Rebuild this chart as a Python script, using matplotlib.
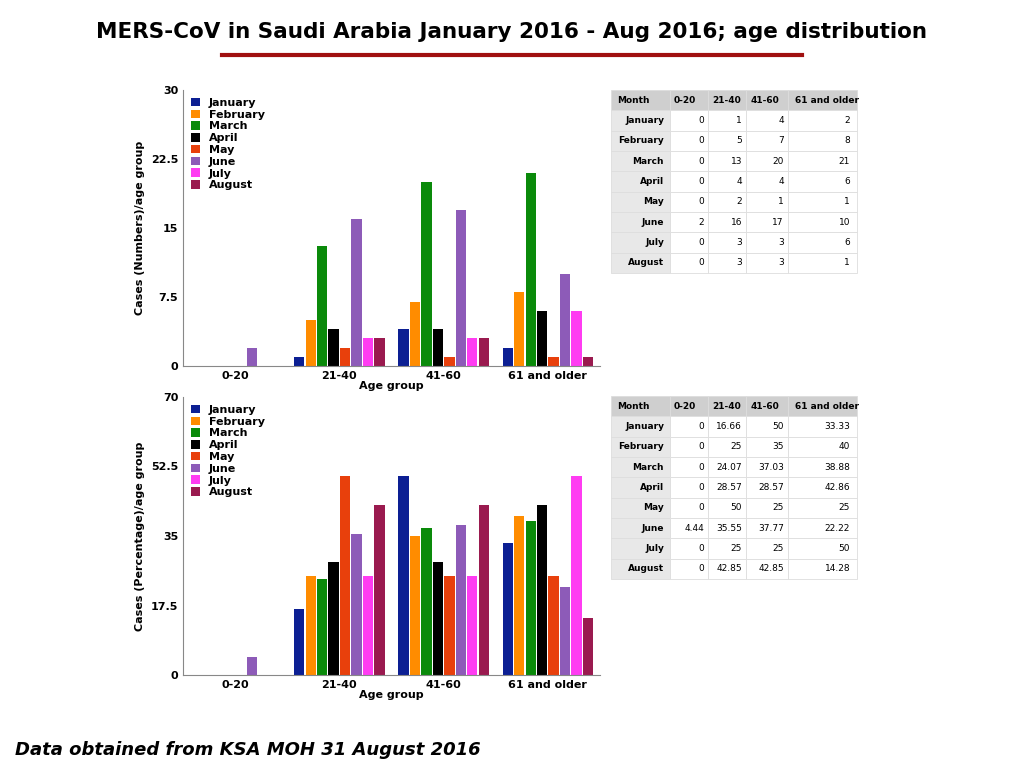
import numpy as np
import matplotlib.pyplot as plt
from matplotlib.lines import Line2D

months = ['January', 'February', 'March', 'April', 'May', 'June', 'July', 'August']
age_groups = ['0-20', '21-40', '41-60', '61 and older']
colors = ['#0c1f93', '#ff8c00', '#0a8a0a', '#000000', '#e8400c', '#8d5bb8', '#ff3cf2', '#9a1a4f']

counts = [
    [0, 1, 4, 2],
    [0, 5, 7, 8],
    [0, 13, 20, 21],
    [0, 4, 4, 6],
    [0, 2, 1, 1],
    [2, 16, 17, 10],
    [0, 3, 3, 6],
    [0, 3, 3, 1],
]
percents = [
    [0, 16.66, 50, 33.33],
    [0, 25, 35, 40],
    [0, 24.07, 37.03, 38.88],
    [0, 28.57, 28.57, 42.86],
    [0, 50, 25, 25],
    [4.44, 35.55, 37.77, 22.22],
    [0, 25, 25, 50],
    [0, 42.85, 42.85, 14.28],
]

W, H = 1024, 768
fig = plt.figure(figsize=(W / 100, H / 100), dpi=100)
fig.patch.set_facecolor('white')


def fbox(x0, y0, x1, y1):
    return [x0 / W, 1 - y1 / H, (x1 - x0) / W, (y1 - y0) / H]


fig.text(0.5, 1 - 32 / H, 'MERS-CoV in Saudi Arabia January 2016 - Aug 2016; age distribution',
         ha='center', va='center', fontsize=15.5, fontweight='bold')
fig.add_artist(Line2D([222 / W, 802 / W], [1 - 55 / H] * 2, color='#a01010', lw=3))
fig.text(15 / W, 1 - 750 / H, 'Data obtained from KSA MOH 31 August 2016',
         ha='left', va='center', fontsize=13, fontweight='bold', style='italic')


def bar_panel(rect, data, ymax, ticks, ylabel):
    ax = fig.add_axes(rect)
    x = np.arange(len(age_groups))
    bw = 0.88 / len(months) * 1.0
    for i, (m, c) in enumerate(zip(months, colors)):
        ax.bar(x - 0.44 + bw * (i + 0.5), data[i], width=bw * 0.9, color=c, label=m)
    ax.set_xlim(-0.5, 3.5)
    ax.set_ylim(0, ymax)
    ax.set_yticks(ticks)
    ax.set_yticklabels([('%g' % t) for t in ticks], fontsize=8, fontweight='bold')
    ax.set_xticks(x)
    ax.set_xticklabels(age_groups, fontsize=8, fontweight='bold')
    ax.tick_params(length=0)
    ax.set_xlabel('Age group', fontsize=8, fontweight='bold', labelpad=0)
    ax.set_ylabel(ylabel, fontsize=8, fontweight='bold')
    for s in ['top', 'right']:
        ax.spines[s].set_visible(False)
    ax.spines['left'].set_color('#888888')
    ax.spines['bottom'].set_color('#888888')
    leg = ax.legend(loc='upper left', frameon=False, fontsize=8, handlelength=0.8,
                    handleheight=0.8, labelspacing=0.15, borderaxespad=0.3)
    for t in leg.get_texts():
        t.set_fontweight('bold')
    return ax


bar_panel(fbox(183, 90, 600, 366), counts, 30, [0, 7.5, 15, 22.5, 30], 'Cases (Numbers)/age group')
bar_panel(fbox(183, 397, 600, 675), percents, 70, [0, 17.5, 35, 52.5, 70], 'Cases (Percentage)/age group')


def table_panel(rect, data):
    ax = fig.add_axes(rect)
    ax.axis('off')
    cells = [[('%g' % v) for v in row] for row in data]
    tb = ax.table(cellText=cells, rowLabels=None, colLabels=None,
                  bbox=[0, 0, 1, 1], cellLoc='right')
    # build manually with header + row labels
    ax.clear()
    ax.axis('off')
    rows = [['Month'] + age_groups] + [[m] + r for m, r in zip(months, cells)]
    widths = np.array([59, 38, 38, 42, 69], dtype=float)
    widths /= widths.sum()
    tb = ax.table(cellText=rows, bbox=[0, 0, 1, 1], colWidths=list(widths))
    tb.auto_set_font_size(False)
    for (r, c), cell in tb.get_celld().items():
        cell.set_edgecolor('#dddddd')
        cell.set_linewidth(0.6)
        cell.get_text().set_fontsize(6.5)
        if r == 0:
            cell.set_facecolor('#cfcfcf')
            cell.get_text().set_fontweight('bold')
            cell._loc = 'left'
            cell.get_text().set_ha('left')
        elif c == 0:
            cell.set_facecolor('#e8e8e8')
            cell.get_text().set_fontweight('bold')
            cell._loc = 'right'
            cell.get_text().set_ha('right')
        else:
            cell.set_facecolor('white')
            cell._loc = 'right'
            cell.get_text().set_ha('right')


table_panel(fbox(611, 90, 857, 273), counts)
table_panel(fbox(611, 396, 857, 579), percents)

fig.savefig('out.png', dpi=100)
